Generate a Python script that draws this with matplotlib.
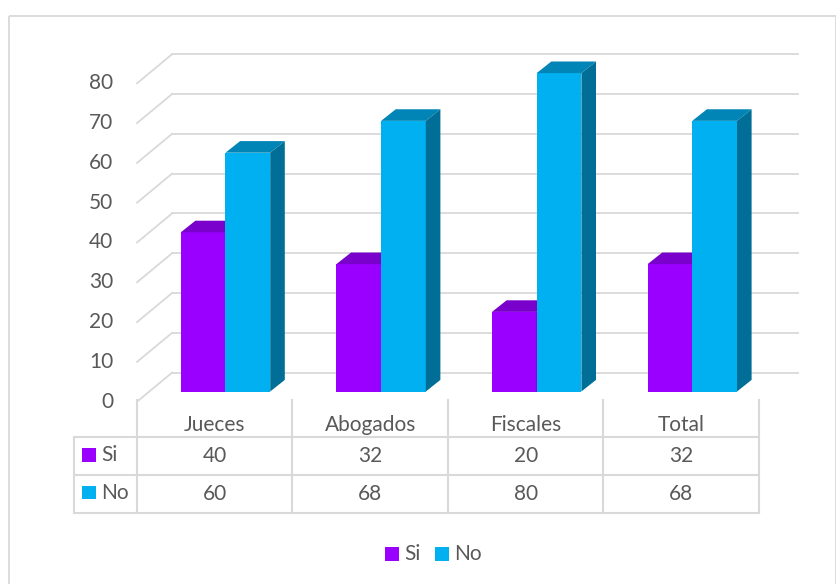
import numpy as np
import matplotlib.pyplot as plt
from matplotlib.patches import Polygon, Rectangle

plt.rcParams['font.family'] = ['Lato', 'DejaVu Sans']

# data
categories = ['Jueces', 'Abogados', 'Fiscales', 'Total']
si = [40, 32, 20, 32]
no = [60, 68, 80, 68]
series = ['Si', 'No']
yticks = [0, 10, 20, 30, 40, 50, 60, 70, 80]

# colours
siFront, siTop, siSide = '#9900FF', '#7A00CC', '#6A00B0'
noFront, noTop, noSide = '#00B0F0', '#0085B6', '#006E96'
gridCol = '#D9D9D9'
txtCol = '#595959'
fs = 15

W, H = 837, 584
fig = plt.figure(figsize=(W/100, H/100), dpi=100)

# overlay in pixel coords for border / table / legend
bg = fig.add_axes([0, 0, 1, 1])
bg.set_xlim(0, W)
bg.set_ylim(H, 0)
bg.axis('off')

# main plotting axes: category index vs value, bar front plane
UX, UY = 155.6, 3.98         # pixels per category / per unit
x0pix, y0pix = 225.5, 391.5  # pixel of category 0 centre, value 0
ax = fig.add_axes([(x0pix - 0.5*UX)/W, (H - y0pix)/H, 4*UX/W, 80*UY/H])
ax.set_xlim(-0.5, 3.5)
ax.set_ylim(0, 80)
ax.axis('off')

# walls / gridlines (side wall + back wall)
FL = (137 - x0pix)/UX
BL = (172 - x0pix)/UX
BR = (798 - x0pix)/UX
dyF = -(401.7 - y0pix)/UY
dyB = (y0pix - 372.7)/UY
for v in yticks:
    ax.plot([FL, BL], [v + dyF, v + dyB], color=gridCol, lw=1.3, clip_on=False, zorder=1)
    ax.plot([BL, BR], [v + dyB, v + dyB], color=gridCol, lw=1.3, clip_on=False, zorder=1)
    ax.text((113.5 - x0pix)/UX, v + dyF, str(v), ha='right', va='center',
            fontsize=fs, color=txtCol, clip_on=False)

# bars
x = np.arange(len(categories))
bw = 44.7/UX
DX, DY = 14.6/UX, 11.6/UY

def bar3d(xl, v, front, top, side, z):
    ax.bar(xl, v, bw, align='edge', color=front, zorder=z, linewidth=0)
    ax.add_patch(Polygon([[xl, v], [xl + bw, v], [xl + bw + DX, v + DY], [xl + DX, v + DY]],
                         closed=True, facecolor=top, edgecolor='none', zorder=z, clip_on=False))
    ax.add_patch(Polygon([[xl + bw, 0], [xl + bw + DX, DY], [xl + bw + DX, v + DY], [xl + bw, v]],
                         closed=True, facecolor=side, edgecolor='none', zorder=z, clip_on=False))

for i in range(len(categories)):
    bar3d(x[i] - bw, si[i], siFront, siTop, siSide, 3 + 2*i)
    bar3d(x[i], no[i], noFront, noTop, noSide, 4 + 2*i)

# outer border
bg.add_patch(Rectangle((9.5, 15.5), 826.5, 600, facecolor='none', edgecolor=gridCol, lw=1.3))

# data table
colL, cw = 137.0, 155.5
edges = [colL + cw*k for k in range(len(categories) + 1)]
rowTop, r1, r2, r3 = 400, 437, 475, 513
lc = dict(color=gridCol, lw=1.5)
for e in edges:
    bg.plot([e, e], [rowTop, r3], **lc)
bg.plot([74, 74], [r1, r3], **lc)
for r in [r1, r2, r3]:
    bg.plot([74, edges[-1]], [r, r], **lc)

for k, cat in enumerate(categories):
    cx = colL + cw*(k + 0.5)
    bg.text(cx, (rowTop + r1)/2 + 6.5, cat, ha='center', va='center', fontsize=fs, color=txtCol)
    bg.text(cx, (r1 + r2)/2, str(si[k]), ha='center', va='center', fontsize=fs, color=txtCol)
    bg.text(cx, (r2 + r3)/2, str(no[k]), ha='center', va='center', fontsize=fs, color=txtCol)

for (ytop, name, col) in [(448.3, series[0], siFront), (486, series[1], noFront)]:
    bg.add_patch(Rectangle((81.7, ytop), 14.3, 13.4, facecolor=col, edgecolor='none'))
    bg.text(101.5, ytop + 6.7, name, ha='left', va='center', fontsize=fs, color=txtCol)

# legend
for (xl, name, col) in [(385, series[0], siFront), (435, series[1], noFront)]:
    bg.add_patch(Rectangle((xl, 547.3), 14.3, 14, facecolor=col, edgecolor='none'))
    bg.text(xl + 19.5, 554.3, name, ha='left', va='center', fontsize=fs, color=txtCol)

fig.savefig('out.png', dpi=100)
